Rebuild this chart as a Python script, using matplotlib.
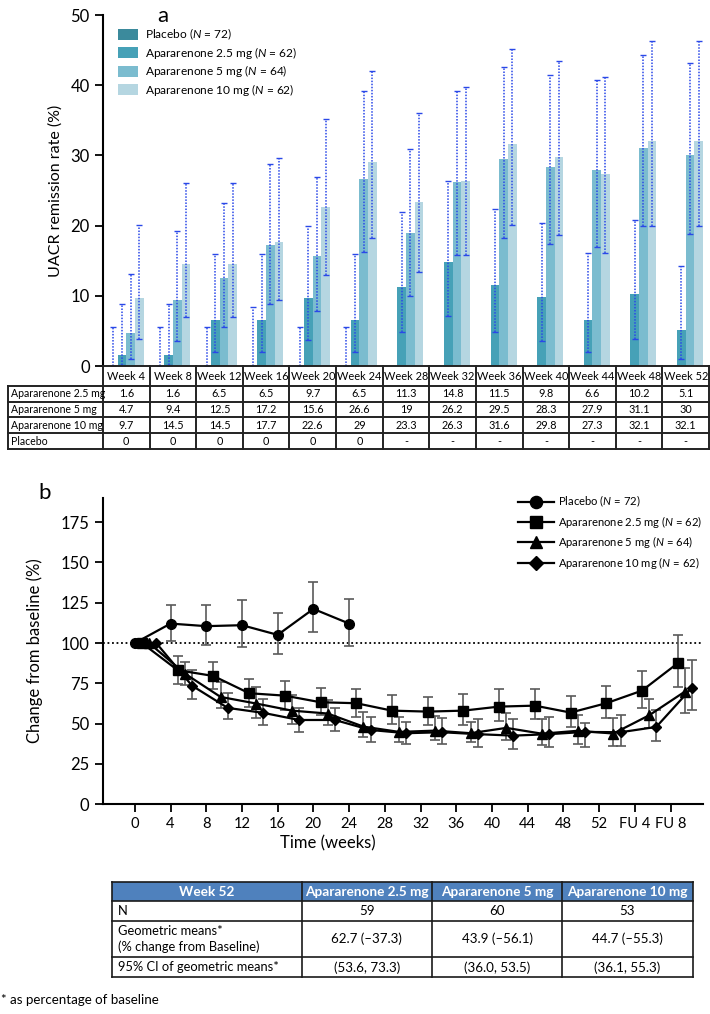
import numpy as np
import matplotlib
matplotlib.use("Agg")
import matplotlib.pyplot as plt
from matplotlib.patches import Rectangle

plt.rcParams['font.family'] = ['Lato', 'DejaVu Sans']
plt.rcParams['mathtext.fontset'] = 'custom'
plt.rcParams['mathtext.it'] = 'Lato:italic'
plt.rcParams['mathtext.rm'] = 'Lato'

nan = np.nan

# ---- panel a data: UACR remission rate (%) ----
week_labels = ['Week %d' % w for w in range(4, 56, 4)]
groups = ['Placebo', 'Apararenone 2.5 mg', 'Apararenone 5 mg', 'Apararenone 10 mg']
group_n = [72, 62, 64, 62]

rem_placebo = [0, 0, 0, 0, 0, 0, nan, nan, nan, nan, nan, nan, nan]
rem_25 = [1.6, 1.6, 6.5, 6.5, 9.7, 6.5, 11.3, 14.8, 11.5, 9.8, 6.6, 10.2, 5.1]
rem_5 = [4.7, 9.4, 12.5, 17.2, 15.6, 26.6, 19, 26.2, 29.5, 28.3, 27.9, 31.1, 30]
rem_10 = [9.7, 14.5, 14.5, 17.7, 22.6, 29, 23.3, 26.3, 31.6, 29.8, 27.3, 32.1, 32.1]

ci_lo_placebo = [0, 0, 0, 0, 0, 0, nan, nan, nan, nan, nan, nan, nan]
ci_hi_placebo = [5.5, 5.5, 5.6, 8.4, 5.6, 5.6, nan, nan, nan, nan, nan, nan, nan]
ci_lo_25 = [0.2, 0.2, 2.0, 2.0, 3.7, 2.0, 4.9, 7.1, 4.8, 3.6, 2.0, 3.8, 1.0]
ci_hi_25 = [8.8, 8.8, 15.9, 15.9, 20.0, 16.0, 22.0, 26.3, 22.3, 20.3, 16.1, 20.8, 14.3]
ci_lo_5 = [1.0, 3.5, 5.6, 8.9, 7.8, 16.3, 10.0, 15.8, 18.3, 17.4, 17.0, 19.9, 18.8]
ci_hi_5 = [13.1, 19.2, 23.2, 28.8, 26.9, 39.2, 30.9, 39.2, 42.6, 41.5, 40.8, 44.3, 43.1]
ci_lo_10 = [3.8, 7.0, 7.0, 9.4, 13.0, 18.3, 13.4, 15.8, 20.1, 18.6, 16.1, 19.9, 20.0]
ci_hi_10 = [20.1, 26.0, 26.0, 29.7, 35.2, 42.0, 36.1, 39.8, 45.2, 43.5, 41.1, 46.3, 46.3]

# ---- panel b data: change from baseline (%) ----
visits = [0, 4, 8, 12, 16, 20, 24, 28, 32, 36, 40, 44, 48, 52, 56, 60]
visit_labels = ['0', '4', '8', '12', '16', '20', '24', '28', '32', '36', '40',
                '44', '48', '52', 'FU 4', 'FU 8']

chg_placebo = [100, 112.1, 110.5, 111.1, 105.1, 121.2, 112.1]
hi_placebo = [nan, 123.9, 123.5, 127.0, 118.7, 138.0, 127.6]
lo_placebo = [nan, 101.0, 99.1, 97.4, 93.3, 106.7, 98.3]

chg_25 = [100, 83.2, 79.6, 68.9, 67.4, 63.3, 62.7, 58.1, 57.5, 58.1, 60.6, 61.2, 56.9, 62.7, 70.5, 87.5]
hi_25 = [nan, 92.3, 88.3, 78.0, 76.7, 72.4, 71.6, 68.0, 66.8, 68.7, 71.8, 71.4, 67.2, 73.3, 82.9, 105.3]
lo_25 = [nan, 74.7, 71.4, 60.4, 58.5, 55.4, 54.4, 49.8, 49.4, 49.0, 51.9, 53.1, 47.8, 53.6, 59.8, 72.6]

chg_5 = [100, 81.1, 66.6, 62.5, 58.1, 56.3, 48.2, 44.9, 45.7, 44.1, 47.4, 43.8, 45.6, 43.9, 55.2, 69.9]
hi_5 = [nan, 88.3, 75.9, 72.8, 68.1, 65.0, 57.3, 54.0, 55.0, 51.3, 56.7, 52.8, 55.4, 53.5, 65.6, 84.8]
lo_5 = [nan, 74.1, 59.6, 53.8, 49.9, 49.0, 41.6, 38.5, 39.9, 38.5, 39.9, 37.0, 37.4, 36.0, 47.6, 56.5]

chg_10 = [100, 73.6, 59.8, 56.7, 52.3, 52.3, 46.1, 44.1, 44.7, 43.5, 42.6, 43.5, 44.9, 44.7, 48.0, 72.4]
hi_10 = [nan, 83.2, 68.9, 65.6, 60.0, 60.0, 54.4, 51.3, 53.8, 53.1, 52.8, 54.0, 50.7, 55.3, 58.5, 89.4]
lo_10 = [nan, 65.2, 52.8, 49.0, 45.1, 45.7, 38.9, 37.2, 37.2, 35.6, 34.5, 35.6, 35.4, 36.1, 39.5, 58.5]

# ---- week 52 summary table ----
tbl_header = ['Week 52', 'Apararenone 2.5 mg', 'Apararenone 5 mg', 'Apararenone 10 mg']
tbl_n = [59, 60, 53]
tbl_gmean = [62.7, 43.9, 44.7]
tbl_ci = [(53.6, 73.3), (36.0, 53.5), (36.1, 55.3)]

W, H = 710, 1014
fig = plt.figure(figsize=(W / 100, H / 100), dpi=100)


def fbox(x0, y0, x1, y1):
    # pixel box (top-left origin) -> figure fraction rect
    return [x0 / W, 1 - y1 / H, (x1 - x0) / W, (y1 - y0) / H]


# ================= panel a =================
bar_colors = ['#3b8a9c', '#46a1b7', '#7bbccf', '#b5d6e1']
ax1 = fig.add_axes(fbox(103, 15, 709, 366))
xs = np.arange(len(week_labels))
bw = 0.186
series_a = [rem_placebo, rem_25, rem_5, rem_10]
lo_a = [ci_lo_placebo, ci_lo_25, ci_lo_5, ci_lo_10]
hi_a = [ci_hi_placebo, ci_hi_25, ci_hi_5, ci_hi_10]
for i in range(4):
    pos = xs + (i - 1.5) * bw
    v = np.array(series_a[i], dtype=float)
    ax1.bar(pos, np.nan_to_num(v), width=bw, color=bar_colors[i],
            label=groups[i] + ' ($N$ = %d)' % group_n[i], zorder=2)
    lo = np.array(lo_a[i], dtype=float)
    hi = np.array(hi_a[i], dtype=float)
    ok = ~np.isnan(v)
    eb = ax1.errorbar(pos[ok], v[ok], yerr=[v[ok] - lo[ok], hi[ok] - v[ok]], fmt='none',
                      ecolor='#2a48e8', elinewidth=1.1, capsize=2.2, capthick=1.0, zorder=3)
    eb[2][0].set_linestyle((0, (1, 1)))

ax1.set_xlim(-0.5, 12.5)
ax1.set_ylim(0, 50)
ax1.set_yticks(range(0, 51, 10))
for s in ['top', 'right', 'bottom']:
    ax1.spines[s].set_visible(False)
ax1.spines['left'].set_linewidth(1.5)
ax1.tick_params(axis='y', direction='out', length=6, width=1.3, labelsize=12)
ax1.tick_params(axis='x', bottom=False, labelbottom=False)
ax1.set_ylabel('UACR remission rate (%)', fontsize=11.5, labelpad=6)
ax1.legend(loc='upper left', bbox_to_anchor=(118 / W, 1 - 27 / H), bbox_transform=fig.transFigure,
           frameon=False, fontsize=8.6, handlelength=1.7, handleheight=1.05,
           labelspacing=0.2, handletextpad=0.6, borderpad=0, borderaxespad=0)
fig.text(163 / W, 1 - 16 / H, 'a', fontsize=16, ha='center', va='center')

# table under panel a
col_w = 606 / 13
tab = fig.add_axes(fbox(8, 366, 709, 449))
tab.set_xlim(-0.5 - 95 / col_w, 12.5)
tab.set_ylim(83, 0)
tab.axis('off')
row_edges = [0, 20, 35.75, 51.5, 67.25, 83]
xl = -0.5 - 95 / col_w
lc = '#222222'
tab.plot([-0.5, 12.5], [0, 0], color=lc, lw=1.4, clip_on=False)
for r in row_edges[1:]:
    tab.plot([xl, 12.5], [r, r], color=lc, lw=1.4, clip_on=False)
tab.plot([xl, xl], [20, 83], color=lc, lw=1.4, clip_on=False)
for c in np.arange(-0.5, 13, 1):
    tab.plot([c, c], [0, 83], color=lc, lw=1.4, clip_on=False)
for j, lab in enumerate(week_labels):
    tab.text(j, 10, lab, ha='center', va='center', fontsize=7.9)
table_rows = [(groups[1], rem_25), (groups[2], rem_5), (groups[3], rem_10), (groups[0], rem_placebo)]
for i, (name, vals) in enumerate(table_rows):
    yc = (row_edges[i + 1] + row_edges[i + 2]) / 2
    tab.text(xl + 0.06, yc, name, ha='left', va='center', fontsize=7.6)
    for j, v in enumerate(vals):
        s = '-' if np.isnan(v) else '%g' % v
        tab.text(j, yc, s, ha='center', va='center', fontsize=7.8)

# ================= panel b =================
ax2 = fig.add_axes(fbox(102.7, 498, 702.7, 804.3))
series_b = [
    (groups[0], chg_placebo, lo_placebo, hi_placebo, 'o', 7),
    (groups[1], chg_25, lo_25, hi_25, 's', 6.5),
    (groups[2], chg_5, lo_5, hi_5, '^', 6.5),
    (groups[3], chg_10, lo_10, hi_10, 'D', 5.5),
]
handles = []
for i, (name, y, lo, hi, mk, ms) in enumerate(series_b):
    y = np.array(y, dtype=float)
    lo = np.array(lo, dtype=float)
    hi = np.array(hi, dtype=float)
    x = np.array(visits[:len(y)], dtype=float) + 0.8 * i
    ax2.errorbar(x, y, yerr=[y - lo, hi - y], fmt='none', ecolor='#5a5a5a',
                 elinewidth=1.2, capsize=3.5, capthick=1.2, zorder=2)
    h, = ax2.plot(x, y, color='black', lw=1.6, marker=mk, ms=ms, zorder=3,
                  label=name + ' ($N$ = %d)' % group_n[i])
    handles.append(h)
ax2.axhline(100, color='black', lw=1.3, ls=(0, (1, 1.5)), zorder=1)
ax2.set_xlim(-3.6, 63.6)
ax2.set_ylim(0, 190)
ax2.set_yticks(range(0, 176, 25))
ax2.set_xticks(visits)
ax2.set_xticklabels(visit_labels)
for s in ['top', 'right']:
    ax2.spines[s].set_visible(False)
for s in ['left', 'bottom']:
    ax2.spines[s].set_linewidth(1.5)
ax2.tick_params(axis='y', direction='out', length=6, width=1.3, labelsize=12)
ax2.tick_params(axis='x', direction='out', length=6, width=1.3, labelsize=10.6)
fig.text(35 / W, 1 - 651 / H, 'Change from baseline (%)', rotation=90,
         fontsize=12, ha='center', va='center')
fig.text(328 / W, 1 - 843 / H, 'Time (weeks)', fontsize=12, ha='center', va='center')
fig.text(45 / W, 1 - 493 / H, 'b', fontsize=16, ha='center', va='center')
ax2.legend(handles=handles, loc='upper left', bbox_to_anchor=(518 / W, 1 - 494 / H),
           bbox_transform=fig.transFigure, frameon=False, fontsize=8.1,
           handlelength=3.2, handletextpad=0.35, labelspacing=0.4,
           borderpad=0, borderaxespad=0, markerscale=1.25)

# ================= week 52 table =================
tb = fig.add_axes(fbox(112.3, 882, 692.7, 977.3))
tw, th = 580.4, 95.3
tb.set_xlim(0, tw)
tb.set_ylim(th, 0)
tb.axis('off')
cx = [0, 189.4, 319.4, 450, tw]
ry = [0, 19, 39, 75.3, th]
tb.add_patch(Rectangle((0, 0), tw, ry[1], facecolor='#4f81bd', edgecolor='none', clip_on=False))
for r in ry:
    tb.plot([0, tw], [r, r], color='#1a1a1a', lw=1.2, clip_on=False)
for c in cx:
    tb.plot([c, c], [0, th], color='#1a1a1a', lw=1.2, clip_on=False)
for j, lab in enumerate(tbl_header):
    tb.text((cx[j] + cx[j + 1]) / 2, ry[1] / 2, lab, ha='center', va='center',
            fontsize=9.8, color='white', fontweight='bold')
row_labels = ['N', 'Geometric means*\n(% change from Baseline)', '95% CI of geometric means*']
row_vals = [
    ['%d' % n for n in tbl_n],
    ['%.1f (\u2013%.1f)' % (g, 100 - g) for g in tbl_gmean],
    ['(%.1f, %.1f)' % ci for ci in tbl_ci],
]
for i in range(3):
    yc = (ry[i + 1] + ry[i + 2]) / 2
    tb.text(6, yc, row_labels[i], ha='left', va='center', fontsize=9.3, linespacing=1.35)
    for j, s in enumerate(row_vals[i]):
        tb.text((cx[j + 1] + cx[j + 2]) / 2, yc, s, ha='center', va='center', fontsize=9.6)

fig.text(1 / W, 1 - 1000 / H, '* as percentage of baseline', fontsize=9.6, ha='left', va='center')

fig.savefig('out.png', dpi=100)
